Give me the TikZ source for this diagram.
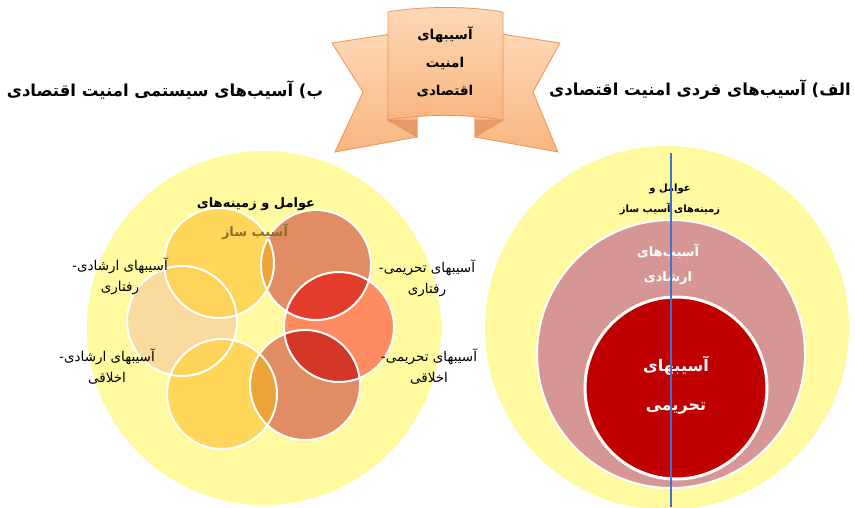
\documentclass[tikz,border=0pt]{standalone}
\usepackage{fontspec}
\newfontfamily\arabicfont[Script=Arabic]{DejaVu Sans}
\TeXXeTstate=1

\definecolor{bigyellow}{RGB}{255,249,160}
\definecolor{rosepink}{RGB}{215,150,150}
\definecolor{deepred}{RGB}{192,0,0}
\definecolor{goldpetal}{RGB}{254,210,78}
\definecolor{rustpetal}{RGB}{220,122,88}
\definecolor{coralpetal}{RGB}{255,122,86}
\definecolor{peachpetal}{RGB}{250,214,158}
\definecolor{redlap}{RGB}{228,60,42}
\definecolor{amberlap}{RGB}{236,164,56}
\definecolor{ribbonlight}{RGB}{253,216,182}
\definecolor{ribbondark}{RGB}{248,182,128}
\definecolor{ribbonfold}{RGB}{230,156,106}
\definecolor{ribbonedge}{RGB}{238,146,88}
\definecolor{axisblue}{RGB}{68,114,196}
\definecolor{olivetext}{RGB}{140,112,35}

\begin{document}
\begin{tikzpicture}[x=1pt,y=-1pt,
    disk/.style={circle,inner sep=0pt,minimum size=#1},
    petal/.style={circle,inner sep=0pt,minimum size=110pt,fill opacity=0.85},
    rim/.style={white,line width=2pt},
    ribbon/.style={draw=ribbonedge,line width=0.8pt,top color=ribbonlight,bottom color=ribbondark},
    lbl/.style={font=\arabicfont\fontsize{13.5}{21}\selectfont,align=center,text=black},
    boldlbl/.style 2 args={font=\arabicfont\bfseries\fontsize{#1}{#2}\selectfont,align=center}]

    % Fix the page to the size of the reference
    \useasboundingbox (0,0) rectangle (855,507);

    % Right part: individual damages as nested circles
    \node[disk=364pt,fill=bigyellow] (outerR) at (667,328) {};
    \node[disk=268pt,fill=rosepink,draw=white,line width=2pt] (middleR) at (671,354) {};
    \node[disk=182pt,fill=deepred,draw=white,line width=3pt] (innerR) at (676,388) {};

    % The vertical line through the circles
    \coordinate (axisTop) at (671,153);
    \coordinate (axisBot) at (671,507);

    % Texts of the right circles
    \node[boldlbl={10}{21}] (factorsR) at (670,199) {\beginR عوامل و\endR\\\beginR زمینه‌های آسیب ساز\endR};
    \node[boldlbl={13}{25},text=white] (guideR) at (668,264) {\beginR آسیب‌های\endR\\\beginR ارشادی\endR};
    \node[boldlbl={16}{39},text=white] (sanctR) at (676,385) {\beginR آسیبهای\endR\\\beginR تحریمی\endR};

    \draw[axisblue,line width=1.2pt] (axisTop) -- (axisBot);

    % Left part: systemic damages as overlapping circles
    \node[disk=354pt,fill=bigyellow] (outerL) at (264,328) {};

    % Text lying partly under the circles
    \node[boldlbl={13}{16}] (factorsL) at (256,204) {\beginR عوامل و زمینه‌های\endR};

    % The six circles
    \node[petal,fill=peachpetal] (guideBehav) at (182,321) {};
    \node[petal,fill=goldpetal] (topGold) at (219,263) {};
    \node[petal,fill=rustpetal] (sanctTop) at (316,265) {};
    \node[petal,fill=coralpetal] (sanctBehav) at (339,327) {};
    \node[petal,fill=rustpetal] (sanctEth) at (305,385) {};
    \node[petal,fill=goldpetal] (guideEth) at (222,394) {};

    % Darker overlaps of neighbouring circles
    \begin{scope}
        \clip (sanctBehav.center) circle (55pt);
        \fill[redlap] (sanctTop.center) circle (55pt);
        \fill[redlap!92!black] (sanctEth.center) circle (55pt);
    \end{scope}
    \begin{scope}
        \clip (sanctTop.center) circle (55pt);
        \fill[amberlap] (topGold.center) circle (55pt);
    \end{scope}
    \begin{scope}
        \clip (sanctEth.center) circle (55pt);
        \fill[amberlap] (guideEth.center) circle (55pt);
    \end{scope}

    % White rims on top
    \draw[rim] (guideBehav.center) circle (55pt);
    \draw[rim] (topGold.center) circle (55pt);
    \draw[rim] (sanctTop.center) circle (55pt);
    \draw[rim] (sanctBehav.center) circle (55pt);
    \draw[rim] (sanctEth.center) circle (55pt);
    \draw[rim] (guideEth.center) circle (55pt);

    \node[boldlbl={13}{16},text=olivetext] (makerL) at (255,232) {\beginR آسیب ساز\endR};

    % Labels beside the circles
    \node[lbl] (lblGB) at (120,276) {\beginR آسیبهای ارشادی-\endR\\\beginR رفتاری\endR};
    \node[lbl] (lblGE) at (107,367) {\beginR آسیبهای ارشادی-\endR\\\beginR اخلاقی\endR};
    \node[lbl] (lblSB) at (427,278) {\beginR آسیبهای تحریمی-\endR\\\beginR رفتاری\endR};
    \node[lbl] (lblSE) at (429,367) {\beginR آسیبهای تحریمی-\endR\\\beginR اخلاقی\endR};

    % The ribbon at the top
    \draw[ribbon] (417,30) -- (332,43) -- (363,92) -- (335,152) -- (417,137) -- cycle;
    \draw[ribbon] (475,30) -- (560,43) -- (533,92) -- (558,152) -- (475,137) -- cycle;
    \draw[draw=ribbonedge,line width=0.8pt,fill=ribbonfold] (388,120) -- (417,120) -- (417,137) -- cycle;
    \draw[draw=ribbonedge,line width=0.8pt,fill=ribbonfold] (503,120) -- (475,120) -- (475,137) -- cycle;
    \draw[ribbon] (388,12) .. controls (420,6) and (470,6) .. (503,12) -- (503,120)
        .. controls (470,114) and (420,114) .. (388,120) -- cycle;
    \node[boldlbl={13.5}{28}] (ribbonText) at (445,62) {\beginR آسیبهای\endR\\\beginR امنیت\endR\\\beginR اقتصادی\endR};

    % Titles of the two parts
    \node[boldlbl={16.5}{20}] (titleL) at (165,90) {\beginR ب) آسیب‌های سیستمی امنیت اقتصادی\endR};
    \node[boldlbl={16.5}{20}] (titleR) at (700,90) {\beginR الف) آسیب‌های فردی امنیت اقتصادی\endR};

\end{tikzpicture}
\end{document}
